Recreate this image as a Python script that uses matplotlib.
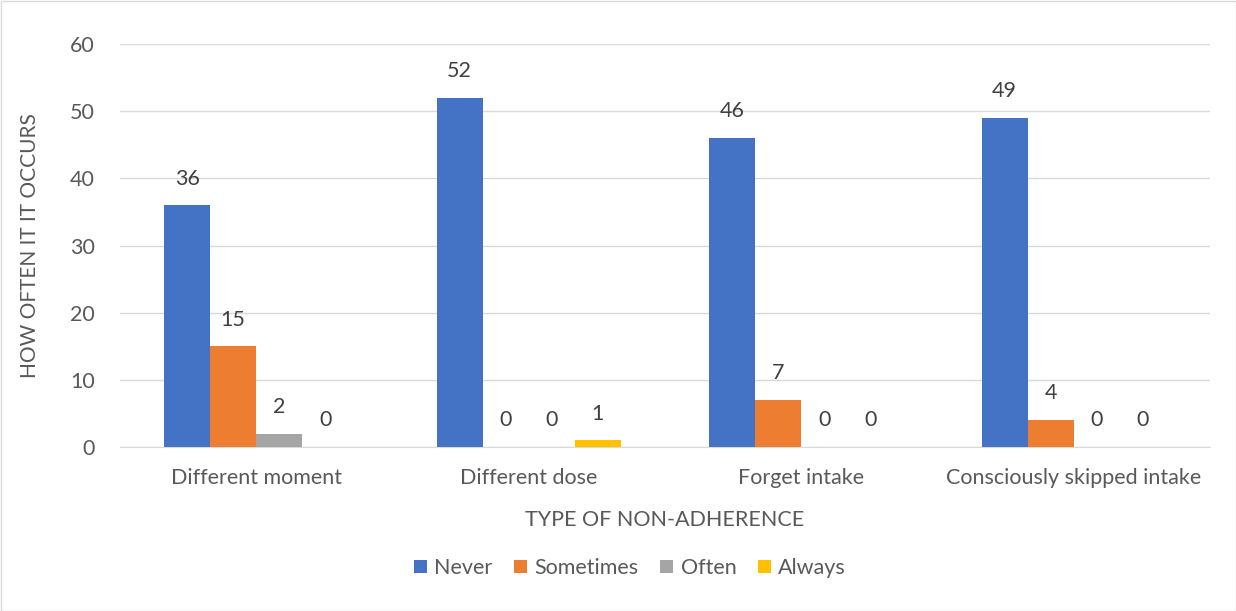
import matplotlib
matplotlib.use("Agg")
import matplotlib.pyplot as plt
import numpy as np

categories = ["Different moment", "Different dose", "Forget intake", "Consciously skipped intake"]
series_names = ["Never", "Sometimes", "Often", "Always"]
never = [36, 52, 46, 49]
sometimes = [15, 0, 7, 4]
often = [2, 0, 0, 0]
always = [0, 1, 0, 0]
colors = ["#4472C4", "#ED7D31", "#A5A5A5", "#FFC000"]
yticks = [0, 10, 20, 30, 40, 50, 60]

plt.rcParams['font.family'] = ['Lato', 'DejaVu Sans']
FS = 15.5
fig = plt.figure(figsize=(12.36, 6.11), dpi=100)
ax = fig.add_axes([120/1236, 1-447/611, 1090/1236, 403/611])

data = [never, sometimes, often, always]
x = np.arange(len(categories))
w = 0.169
for i, (name, vals, c) in enumerate(zip(series_names, data, colors)):
    pos = x + (i - 1.5) * w
    ax.bar(pos, vals, width=w, color=c, label=name, zorder=3)
    for p, v in zip(pos, vals):
        ax.annotate(str(v), (p, v), xytext=(0, 12), textcoords="offset points",
                    ha="center", va="bottom", fontsize=FS, color="#404040")

ax.set_xlim(-0.5, 3.5)
ax.set_ylim(0, 60)
ax.set_yticks(yticks)
ax.set_xticks(x)
ax.set_xticklabels(categories)
ax.grid(axis="y", color="#D9D9D9", linewidth=1, zorder=0)
for s in ["top", "right", "left"]:
    ax.spines[s].set_visible(False)
ax.spines["bottom"].set_color("#D9D9D9")
ax.tick_params(axis="both", length=0, labelsize=FS, labelcolor="#595959")
ax.tick_params(axis="x", pad=15)
ax.tick_params(axis="y", pad=18)
ax.set_xlabel("TYPE OF NON-ADHERENCE", fontsize=FS, color="#595959", labelpad=16)
ax.set_ylabel("HOW OFTEN IT IT OCCURS", fontsize=15, color="#595959", labelpad=22)

leg = fig.legend(loc="center", bbox_to_anchor=(630/1236, 1-568/611), ncol=4, frameon=False,
                 fontsize=FS, handlelength=0.6, handleheight=0.6, columnspacing=1.0, handletextpad=0.35)
for t in leg.get_texts():
    t.set_color("#595959")

fig.patches.append(plt.Rectangle((0.5/1236, 0.5/611), 1-1/1236, 1-1/611, transform=fig.transFigure,
                                 fill=False, edgecolor="#D9D9D9", linewidth=1))
fig.savefig("out.png", dpi=100)
